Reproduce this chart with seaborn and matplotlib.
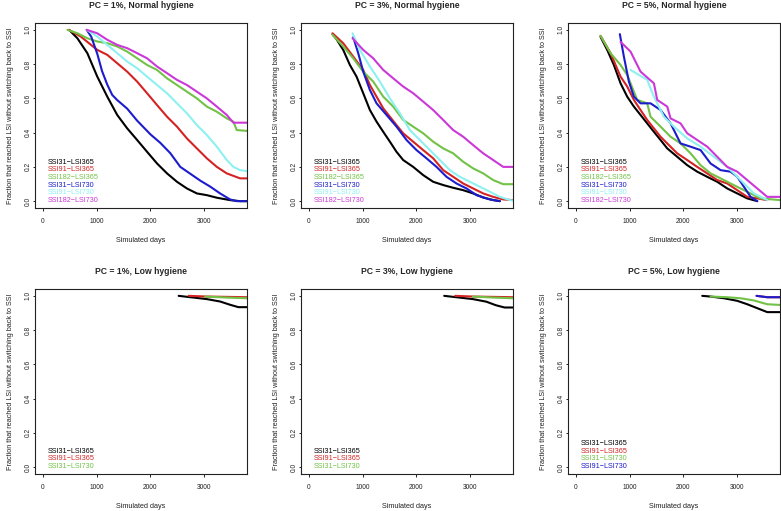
import matplotlib
matplotlib.use("Agg")
import matplotlib.pyplot as plt
from matplotlib.lines import Line2D
import pandas as pd
import seaborn as sns

# ---------------- data ----------------
X_TICKS = [0, 1000, 2000, 3000]
Y_TICKS = [0.0, 0.2, 0.4, 0.6, 0.8, 1.0]
Y_TICK_LABELS = ["0.0", "0.2", "0.4", "0.6", "0.8", "1.0"]

TITLES = ["PC = 1%, Normal hygiene", "PC = 3%, Normal hygiene", "PC = 5%, Normal hygiene",
          "PC = 1%, Low hygiene", "PC = 3%, Low hygiene", "PC = 5%, Low hygiene"]

NORMAL_LABELS = ["SSI31\u2212LSI365", "SSI91\u2212LSI365", "SSI182\u2212LSI365",
                 "SSI31\u2212LSI730", "SSI91\u2212LSI730", "SSI182\u2212LSI730"]
NORMAL_COLORS = ["#000000", "#D42323", "#72C247", "#1C1CCC", "#8EF0F0", "#CC38D8"]
LOW_LABELS_A = ["SSI31\u2212LSI365", "SSI91\u2212LSI365", "SSI31\u2212LSI730"]
LOW_COLORS_A = ["#000000", "#D42323", "#72C247"]
LOW_LABELS_B = ["SSI31\u2212LSI365", "SSI91\u2212LSI365", "SSI31\u2212LSI730", "SSI91\u2212LSI730"]
LOW_COLORS_B = ["#000000", "#D42323", "#72C247", "#1C1CCC"]

# PC = 1%, normal hygiene
n1_ssi31_lsi365_x = [488, 642, 827, 1012, 1198, 1383, 1568, 1753, 1938, 2123, 2309, 2494, 2679, 2864, 3049, 3235, 3481, 3667, 3800]
n1_ssi31_lsi365_y = [1.0, 0.951, 0.864, 0.727, 0.61, 0.503, 0.425, 0.357, 0.288, 0.22, 0.162, 0.113, 0.074, 0.045, 0.035, 0.02, 0.006, 0.0, 0.0]
n1_ssi91_lsi365_x = [488, 704, 1012, 1198, 1383, 1568, 1753, 1938, 2123, 2309, 2494, 2679, 2864, 3049, 3235, 3420, 3667, 3800]
n1_ssi91_lsi365_y = [1.0, 0.961, 0.883, 0.854, 0.805, 0.756, 0.698, 0.63, 0.561, 0.493, 0.435, 0.366, 0.308, 0.25, 0.2, 0.162, 0.133, 0.133]
n1_ssi182_lsi365_x = [457, 642, 827, 1012, 1198, 1383, 1568, 1753, 1938, 2123, 2309, 2494, 2679, 2864, 3049, 3235, 3420, 3543, 3605, 3800]
n1_ssi182_lsi365_y = [1.0, 0.98, 0.951, 0.932, 0.922, 0.903, 0.873, 0.834, 0.795, 0.766, 0.717, 0.678, 0.639, 0.6, 0.552, 0.522, 0.483, 0.464, 0.415, 0.41]
n1_ssi31_lsi730_x = [815, 900, 1012, 1100, 1198, 1290, 1383, 1568, 1753, 2000, 2185, 2370, 2556, 2741, 2926, 3111, 3296, 3481, 3605, 3800]
n1_ssi31_lsi730_y = [1.0, 0.96, 0.86, 0.76, 0.68, 0.62, 0.59, 0.54, 0.47, 0.39, 0.34, 0.28, 0.2, 0.16, 0.12, 0.085, 0.045, 0.01, 0.0, 0.0]
n1_ssi91_lsi730_x = [815, 1012, 1198, 1383, 1568, 1753, 1938, 2123, 2309, 2494, 2679, 2864, 3049, 3235, 3420, 3543, 3667, 3800]
n1_ssi91_lsi730_y = [1.0, 0.961, 0.912, 0.864, 0.815, 0.776, 0.727, 0.678, 0.63, 0.571, 0.513, 0.444, 0.386, 0.318, 0.24, 0.2, 0.181, 0.175]
n1_ssi182_lsi730_x = [815, 1012, 1198, 1383, 1568, 1753, 1938, 2123, 2309, 2494, 2679, 2864, 3049, 3235, 3420, 3543, 3800]
n1_ssi182_lsi730_y = [1.0, 0.98, 0.942, 0.912, 0.893, 0.864, 0.834, 0.786, 0.747, 0.708, 0.678, 0.639, 0.6, 0.552, 0.503, 0.458, 0.458]

# PC = 3%, normal hygiene
n3_ssi31_lsi365_x = [440, 515, 639, 763, 887, 1011, 1135, 1259, 1383, 1507, 1630, 1754, 1940, 2126, 2312, 2498, 2684, 2870, 3056, 3242, 3428, 3552]
n3_ssi31_lsi365_y = [0.975, 0.945, 0.883, 0.795, 0.727, 0.63, 0.532, 0.464, 0.405, 0.347, 0.288, 0.24, 0.2, 0.152, 0.113, 0.094, 0.078, 0.064, 0.045, 0.021, 0.006, 0.0]
n3_ssi91_lsi365_x = [440, 639, 825, 1011, 1135, 1259, 1383, 1507, 1630, 1754, 1940, 2126, 2312, 2498, 2684, 2870, 3056, 3242, 3428, 3614, 3800]
n3_ssi91_lsi365_y = [0.98, 0.922, 0.844, 0.766, 0.678, 0.61, 0.542, 0.493, 0.444, 0.396, 0.347, 0.298, 0.25, 0.181, 0.142, 0.103, 0.074, 0.045, 0.025, 0.01, 0.006]
n3_ssi182_lsi365_x = [440, 639, 825, 1011, 1197, 1383, 1569, 1754, 1940, 2126, 2312, 2498, 2684, 2870, 3056, 3242, 3428, 3614, 3800]
n3_ssi182_lsi365_y = [0.971, 0.903, 0.834, 0.756, 0.698, 0.61, 0.552, 0.474, 0.435, 0.396, 0.347, 0.308, 0.279, 0.23, 0.191, 0.162, 0.123, 0.099, 0.099]
n3_ssi31_lsi730_x = [825, 918, 1011, 1135, 1259, 1445, 1630, 1816, 2002, 2188, 2374, 2560, 2746, 2932, 3118, 3366, 3552]
n3_ssi31_lsi730_y = [0.957, 0.864, 0.756, 0.649, 0.571, 0.503, 0.435, 0.357, 0.298, 0.25, 0.2, 0.142, 0.103, 0.074, 0.035, 0.01, 0.0]
n3_ssi91_lsi730_x = [812, 949, 1135, 1321, 1507, 1692, 1878, 2064, 2250, 2436, 2622, 2808, 2994, 3180, 3366, 3552, 3738, 3800]
n3_ssi91_lsi730_y = [0.98, 0.883, 0.786, 0.698, 0.6, 0.513, 0.415, 0.357, 0.298, 0.24, 0.181, 0.142, 0.113, 0.084, 0.055, 0.025, 0.006, 0.004]
n3_ssi182_lsi730_x = [812, 1011, 1197, 1383, 1569, 1754, 1940, 2126, 2312, 2498, 2684, 2870, 3056, 3242, 3428, 3614, 3800]
n3_ssi182_lsi730_y = [0.951, 0.883, 0.834, 0.766, 0.717, 0.669, 0.63, 0.581, 0.532, 0.474, 0.415, 0.376, 0.327, 0.279, 0.24, 0.2, 0.2]

# PC = 5%, normal hygiene
n5_ssi31_lsi365_x = [459, 583, 707, 831, 955, 1079, 1203, 1327, 1451, 1575, 1699, 1885, 2071, 2257, 2443, 2629, 2815, 3001, 3187, 3373]
n5_ssi31_lsi365_y = [0.959, 0.883, 0.795, 0.688, 0.61, 0.552, 0.503, 0.454, 0.405, 0.357, 0.308, 0.259, 0.21, 0.172, 0.142, 0.113, 0.074, 0.045, 0.016, 0.0]
n5_ssi91_lsi365_x = [459, 645, 831, 955, 1079, 1203, 1327, 1451, 1575, 1699, 1885, 2071, 2257, 2443, 2629, 2815, 3001, 3187, 3373, 3559]
n5_ssi91_lsi365_y = [0.965, 0.864, 0.727, 0.669, 0.591, 0.532, 0.474, 0.425, 0.376, 0.337, 0.279, 0.24, 0.2, 0.162, 0.123, 0.103, 0.064, 0.025, 0.016, 0.006]
n5_ssi182_lsi365_x = [459, 645, 831, 955, 1141, 1327, 1389, 1575, 1761, 1947, 2133, 2319, 2505, 2691, 2877, 3063, 3249, 3435, 3800]
n5_ssi182_lsi365_y = [0.965, 0.864, 0.795, 0.737, 0.591, 0.571, 0.493, 0.435, 0.376, 0.337, 0.279, 0.21, 0.162, 0.133, 0.103, 0.074, 0.045, 0.016, 0.006]
n5_ssi31_lsi730_x = [818, 893, 986, 1079, 1203, 1389, 1575, 1761, 1947, 2133, 2319, 2505, 2691, 2877, 3001, 3125, 3249, 3373]
n5_ssi31_lsi730_y = [0.975, 0.844, 0.698, 0.61, 0.571, 0.571, 0.532, 0.454, 0.337, 0.318, 0.298, 0.22, 0.181, 0.172, 0.142, 0.084, 0.025, 0.0]
n5_ssi91_lsi730_x = [1017, 1327, 1451, 1637, 1823, 2071, 2319, 2567, 2815, 3063, 3311, 3559]
n5_ssi91_lsi730_y = [0.766, 0.708, 0.61, 0.493, 0.435, 0.366, 0.318, 0.259, 0.2, 0.123, 0.045, 0.006]
n5_ssi182_lsi730_x = [831, 1017, 1203, 1451, 1513, 1699, 1761, 1947, 2071, 2257, 2443, 2629, 2815, 3001, 3187, 3373, 3559, 3800]
n5_ssi182_lsi730_y = [0.93, 0.873, 0.756, 0.688, 0.591, 0.552, 0.483, 0.454, 0.396, 0.357, 0.318, 0.259, 0.2, 0.172, 0.123, 0.074, 0.025, 0.025]

# PC = 1%, low hygiene
l1_ssi31_lsi365_x = [2525, 2802, 3049, 3296, 3481, 3636, 3800]
l1_ssi31_lsi365_y = [1.0, 0.99, 0.981, 0.967, 0.948, 0.934, 0.934]
l1_ssi91_lsi365_x = [2710, 3049, 3800]
l1_ssi91_lsi365_y = [1.0, 0.996, 0.992]
l1_ssi31_lsi730_x = [3019, 3420, 3800]
l1_ssi31_lsi730_y = [0.996, 0.99, 0.986]

# PC = 3%, low hygiene
l3_ssi31_lsi365_x = [2517, 2800, 3050, 3300, 3480, 3640, 3800]
l3_ssi31_lsi365_y = [1.0, 0.99, 0.981, 0.966, 0.945, 0.932, 0.932]
l3_ssi91_lsi365_x = [2720, 3050, 3800]
l3_ssi91_lsi365_y = [1.0, 0.996, 0.992]
l3_ssi31_lsi730_x = [3050, 3420, 3800]
l3_ssi31_lsi730_y = [0.996, 0.99, 0.986]

# PC = 5%, low hygiene
l5_ssi31_lsi365_x = [2350, 2505, 2753, 3001, 3187, 3373, 3559, 3800]
l5_ssi31_lsi365_y = [1.0, 0.996, 0.986, 0.971, 0.951, 0.928, 0.905, 0.905]
l5_ssi91_lsi365_x = [3360, 3559, 3800]
l5_ssi91_lsi365_y = [1.0, 0.992, 0.992]
l5_ssi31_lsi730_x = [2505, 2815, 3063, 3311, 3559, 3800]
l5_ssi31_lsi730_y = [0.996, 0.992, 0.986, 0.973, 0.951, 0.947]
l5_ssi91_lsi730_x = [3360, 3559, 3800]
l5_ssi91_lsi730_y = [1.0, 0.992, 0.992]

# ---------------- assemble panels ----------------
panels = [
    (TITLES[0], NORMAL_LABELS, NORMAL_COLORS,
     [(n1_ssi31_lsi365_x, n1_ssi31_lsi365_y), (n1_ssi91_lsi365_x, n1_ssi91_lsi365_y),
      (n1_ssi182_lsi365_x, n1_ssi182_lsi365_y), (n1_ssi31_lsi730_x, n1_ssi31_lsi730_y),
      (n1_ssi91_lsi730_x, n1_ssi91_lsi730_y), (n1_ssi182_lsi730_x, n1_ssi182_lsi730_y)]),
    (TITLES[1], NORMAL_LABELS, NORMAL_COLORS,
     [(n3_ssi31_lsi365_x, n3_ssi31_lsi365_y), (n3_ssi91_lsi365_x, n3_ssi91_lsi365_y),
      (n3_ssi182_lsi365_x, n3_ssi182_lsi365_y), (n3_ssi31_lsi730_x, n3_ssi31_lsi730_y),
      (n3_ssi91_lsi730_x, n3_ssi91_lsi730_y), (n3_ssi182_lsi730_x, n3_ssi182_lsi730_y)]),
    (TITLES[2], NORMAL_LABELS, NORMAL_COLORS,
     [(n5_ssi31_lsi365_x, n5_ssi31_lsi365_y), (n5_ssi91_lsi365_x, n5_ssi91_lsi365_y),
      (n5_ssi182_lsi365_x, n5_ssi182_lsi365_y), (n5_ssi31_lsi730_x, n5_ssi31_lsi730_y),
      (n5_ssi91_lsi730_x, n5_ssi91_lsi730_y), (n5_ssi182_lsi730_x, n5_ssi182_lsi730_y)]),
    (TITLES[3], LOW_LABELS_A, LOW_COLORS_A,
     [(l1_ssi31_lsi365_x, l1_ssi31_lsi365_y), (l1_ssi91_lsi365_x, l1_ssi91_lsi365_y),
      (l1_ssi31_lsi730_x, l1_ssi31_lsi730_y)]),
    (TITLES[4], LOW_LABELS_A, LOW_COLORS_A,
     [(l3_ssi31_lsi365_x, l3_ssi31_lsi365_y), (l3_ssi91_lsi365_x, l3_ssi91_lsi365_y),
      (l3_ssi31_lsi730_x, l3_ssi31_lsi730_y)]),
    (TITLES[5], LOW_LABELS_B, LOW_COLORS_B,
     [(l5_ssi31_lsi365_x, l5_ssi31_lsi365_y), (l5_ssi91_lsi365_x, l5_ssi91_lsi365_y),
      (l5_ssi31_lsi730_x, l5_ssi31_lsi730_y), (l5_ssi91_lsi730_x, l5_ssi91_lsi730_y)]),
]

# ---------------- plotting ----------------
sns.set_theme(style="white")
plt.rcParams['font.family'] = ['Liberation Sans', 'DejaVu Sans']

W, H = 781, 511
fig = plt.figure(figsize=(W / 100, H / 100), dpi=100)
col_left = [35, 301, 568]
row_top = [23, 289]
ax_w, ax_h = 212, 185

BASE = 5.2
for i, (title, labels, colors, series) in enumerate(panels):
    r, c = divmod(i, 3)
    ax = fig.add_axes([col_left[c] / W, 1 - (row_top[r] + ax_h) / H, ax_w / W, ax_h / H])
    rows = []
    for lab, (xs, ys) in zip(labels, series):
        for xv, yv in zip(xs, ys):
            rows.append({"day": xv, "frac": yv, "scenario": lab})
    df = pd.DataFrame(rows)
    sns.lineplot(data=df, x="day", y="frac", hue="scenario", hue_order=labels,
                 palette=dict(zip(labels, colors)), estimator=None, sort=False,
                 legend=False, linewidth=1.5, ax=ax)
    ax.set_xlim(-146, 3796)
    ax.set_ylim(-0.04, 1.04)
    ax.set_xticks(X_TICKS)
    ax.set_xticklabels([str(t) for t in X_TICKS])
    ax.set_yticks(Y_TICKS)
    ax.set_yticklabels(Y_TICK_LABELS, rotation=90, va="center", ha="right")
    ax.tick_params(axis="both", direction="out", length=1.8, width=0.6, color="black",
                   labelsize=4.8, labelcolor="#222222")
    ax.tick_params(axis="y", pad=0.4)
    ax.tick_params(axis="x", pad=5.5)
    ax.tick_params(bottom=True, left=True)
    for sp in ax.spines.values():
        sp.set_visible(True)
        sp.set_color("#222222")
        sp.set_linewidth(0.8)
    ax.set_title(title, fontsize=6.2, fontweight="bold", pad=10.5)
    ax.set_xlabel("Simulated days", fontsize=BASE, labelpad=8.5, color="#222222")
    ax.set_ylabel("Fraction that reached LSI without switching back to SSI",
                  fontsize=BASE, labelpad=8, color="#222222")
    handles = [Line2D([], [], color=col) for col in colors]
    ax.legend(handles, labels, loc="lower left", bbox_to_anchor=(13 / ax_w, 4 / ax_h),
              borderaxespad=0, borderpad=0, frameon=False, handlelength=0,
              handletextpad=0, labelcolor=colors, fontsize=BASE, labelspacing=0.08)

fig.savefig("out.png", dpi=100)
